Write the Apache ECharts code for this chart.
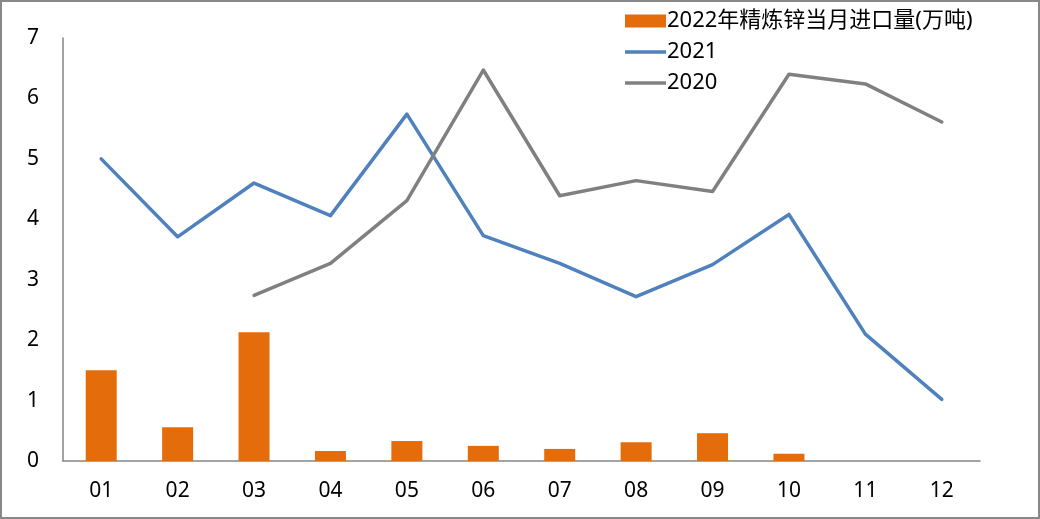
<!DOCTYPE html>
<html><head><meta charset="utf-8">
<script src="https://cdn.jsdelivr.net/npm/echarts@6/dist/echarts.min.js"></script>
<style>html,body{margin:0;padding:0;background:#fff}
#c{width:1040px;height:519px;box-sizing:border-box;border:2px solid #888}</style>
</head><body><div id="c"></div>
<script>
const categories = ['01','02','03','04','05','06','07','08','09','10','11','12'];
const imports2022 = [1.50,0.56,2.13,0.165,0.33,0.25,0.20,0.31,0.46,0.12,null,null];
const line2021 = [5.00,3.71,4.60,4.06,5.74,3.73,3.27,2.72,3.25,4.08,2.10,1.02];
const line2020 = ['-','-',2.74,3.27,4.31,6.47,4.39,4.64,4.46,6.40,6.24,5.61];
const yTicks = [0,1,2,3,4,5,6,7];
const names = ['2022年精炼锌当月进口量(万吨)','2021','2020'];

const font = '"Noto Sans", "Noto Sans CJK SC", sans-serif';
const lineIcon = 'path://M0,0 L40,0 L40,3.5 L0,3.5 Z';
const chart = echarts.init(document.getElementById('c'));
chart.setOption({
  animation:false,
  textStyle:{fontFamily:font},
  grid:{left:61,right:58,top:36,bottom:56,containLabel:false},
  legend:{
    orient:'vertical', left:618, top:3, itemWidth:41, itemHeight:13, itemGap:9,
    textStyle:{fontSize:22, color:'#000', fontFamily:font, lineHeight:22, padding:[0,0,0,-4]},
    data:[{name:names[0],icon:'rect'},{name:names[1],icon:lineIcon},{name:names[2],icon:lineIcon}]
  },
  xAxis:{
    type:'category', data:categories, boundaryGap:true,
    axisLine:{lineStyle:{color:'#868686',width:1.5}},
    axisTick:{show:false},
    axisLabel:{fontSize:21,color:'#000',margin:20,fontFamily:font}
  },
  yAxis:{
    type:'value', min:yTicks[0], max:yTicks[yTicks.length-1], interval:1,
    axisLine:{show:true,lineStyle:{color:'#868686',width:1.5}},
    axisTick:{show:false}, splitLine:{show:false},
    axisLabel:{fontSize:21,color:'#000',margin:24,fontFamily:font}
  },
  series:[
    {name:names[0],type:'bar',data:imports2022,barWidth:31,itemStyle:{color:'#E46C0A'}},
    {name:names[1],type:'line',data:line2021,symbol:'none',lineStyle:{color:'#4F81BD',width:3.5,cap:'round',join:'round'},itemStyle:{color:'#4F81BD'}},
    {name:names[2],type:'line',data:line2020,symbol:'none',lineStyle:{color:'#808080',width:3.5,cap:'round',join:'round'},itemStyle:{color:'#808080'}}
  ]
});
</script></body></html>
